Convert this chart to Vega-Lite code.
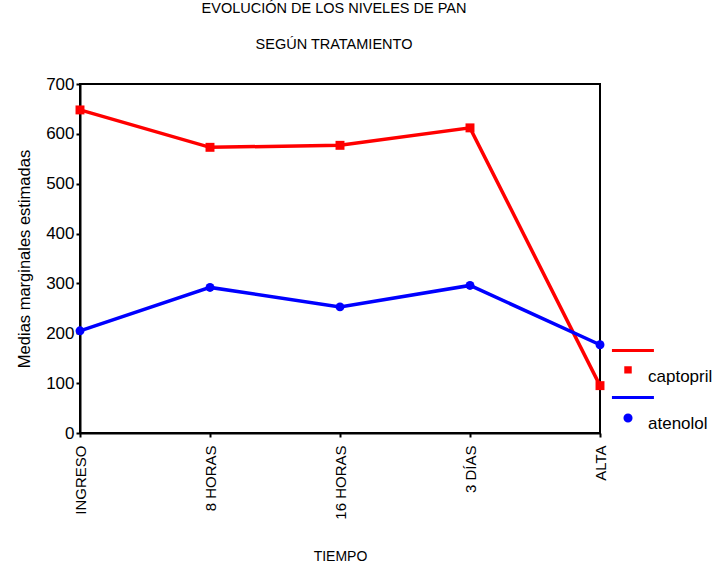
{
  "$schema": "https://vega.github.io/schema/vega-lite/v6.json",
  "autosize": {"type": "none"},
  "width": 520,
  "height": 349,
  "padding": {"left": 80, "top": 84, "right": 120, "bottom": 136},
  "background": "white",
  "title": {
    "text": ["EVOLUCIÓN DE LOS NIVELES DE PAN", "SEGÚN TRATAMIENTO"],
    "font": "Liberation Sans",
    "fontSize": 14.5,
    "fontWeight": "normal",
    "color": "black",
    "lineHeight": 36,
    "offset": 23,
    "anchor": "middle",
    "dx": -6
  },
  "data": {
    "values": [
      {"tiempo": "INGRESO", "tratamiento": "captopril", "valor": 648},
      {"tiempo": "8 HORAS", "tratamiento": "captopril", "valor": 573},
      {"tiempo": "16 HORAS", "tratamiento": "captopril", "valor": 577},
      {"tiempo": "3 DÍAS", "tratamiento": "captopril", "valor": 612},
      {"tiempo": "ALTA", "tratamiento": "captopril", "valor": 95},
      {"tiempo": "INGRESO", "tratamiento": "atenolol", "valor": 205},
      {"tiempo": "8 HORAS", "tratamiento": "atenolol", "valor": 292},
      {"tiempo": "16 HORAS", "tratamiento": "atenolol", "valor": 253},
      {"tiempo": "3 DÍAS", "tratamiento": "atenolol", "valor": 296},
      {"tiempo": "ALTA", "tratamiento": "atenolol", "valor": 177}
    ]
  },
  "encoding": {
    "x": {
      "field": "tiempo",
      "type": "ordinal",
      "sort": ["INGRESO", "8 HORAS", "16 HORAS", "3 DÍAS", "ALTA"],
      "scale": {"type": "point", "padding": 0},
      "axis": {
        "title": "TIEMPO",
        "labelAngle": -90,
        "labelFontSize": 15,
        "labelPadding": 8,
        "titleFontSize": 14,
        "titlePadding": 30
      }
    },
    "y": {
      "field": "valor",
      "type": "quantitative",
      "scale": {"domain": [0, 700], "nice": false},
      "axis": {
        "title": "Medias marginales estimadas",
        "values": [0, 100, 200, 300, 400, 500, 600, 700],
        "labelFontSize": 17,
        "labelPadding": 2,
        "titleFontSize": 16.5,
        "titlePadding": 13
      }
    },
    "color": {
      "field": "tratamiento",
      "type": "nominal",
      "scale": {"domain": ["captopril", "atenolol"], "range": ["#ff0000", "#0000ff"]},
      "legend": {
        "orient": "none",
        "legendX": 525,
        "legendY": 268,
        "title": null,
        "labelFont": "Liberation Sans",
        "labelFontSize": 17,
        "labelColor": "black",
        "labelOffset": -7,
        "symbolSize": 2200,
        "symbolStrokeWidth": 3,
        "rowPadding": 6,
        "encode": {
          "symbols": {
            "update": {
              "shape": {"signal": "datum.value === 'captopril' ? 'M-0.77,-1.13L1.02,-1.13M-0.18,-0.39L0.01,-0.39L0.01,-0.21L-0.18,-0.21Z' : 'M-0.77,-1.13L1.02,-1.13M-0.215,-0.256A0.13,0.13 0 1,0 0.045,-0.256A0.13,0.13 0 1,0 -0.215,-0.256Z'"},
              "fill": {"signal": "datum.value === 'captopril' ? '#ff0000' : '#0000ff'"},
              "stroke": {"signal": "datum.value === 'captopril' ? '#ff0000' : '#0000ff'"},
              "opacity": {"value": 1},
              "fillOpacity": {"value": 1}
            }
          }
        }
      }
    }
  },
  "layer": [
    {"mark": {"type": "line", "strokeWidth": 3.5}},
    {
      "transform": [{"filter": "datum.tratamiento === 'captopril'"}],
      "mark": {"type": "point", "filled": true, "size": 80, "opacity": 1, "shape": "square"}
    },
    {
      "transform": [{"filter": "datum.tratamiento === 'atenolol'"}],
      "mark": {"type": "point", "filled": true, "size": 80, "opacity": 1, "shape": "circle"}
    }
  ],
  "config": {
    "view": {"stroke": "black", "strokeWidth": 2},
    "axis": {
      "grid": false,
      "domainColor": "black",
      "domainWidth": 2,
      "tickColor": "black",
      "tickWidth": 2,
      "tickSize": 4,
      "labelColor": "black",
      "labelFont": "Liberation Sans",
      "titleFont": "Liberation Sans",
      "titleFontWeight": "normal",
      "titleColor": "black"
    }
  }
}
